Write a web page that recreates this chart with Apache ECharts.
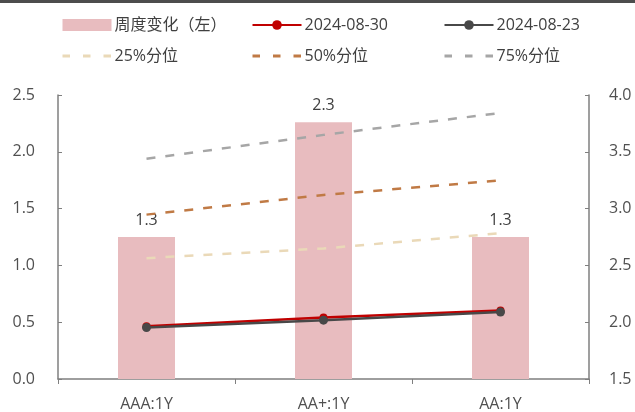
<!DOCTYPE html>
<html><head><meta charset="utf-8">
<script src="https://cdn.jsdelivr.net/npm/echarts@6/dist/echarts.min.js"></script>
<style>html,body{margin:0;padding:0;background:#fff}#c{width:635px;height:412px}</style>
</head><body><div id="c"></div>
<script>
var categories = ['AAA:1Y', 'AA+:1Y', 'AA:1Y'];
var weeklyChange = [1.25, 2.26, 1.25];
var curr = [1.965, 2.041, 2.1025];
var prev = [1.953, 2.018, 2.090];
var p25 = [2.564, 2.649, 2.783];
var p50 = [2.947, 3.120, 3.248];
var p75 = [3.439, 3.649, 3.842];
var leftTicks = [0, 2.5, 0.5];
var rightTicks = [1.5, 4.0, 0.5];

var FONT = '"Open Sans","Noto Sans CJK SC",sans-serif';
var txt = '#404040';
var lab = '#505050';
var chart = echarts.init(document.getElementById('c'), null, {renderer: 'canvas'});
var legDash = [7.5, 13];
function legItem(name, kind) {
  if (kind === 'bar') return {name: name, icon: 'rect'};
  if (kind !== 'dash') return {name: name};
  return {name: name, itemStyle: {opacity: 0, color: 'rgba(0,0,0,0)', borderColor: 'rgba(0,0,0,0)'}, lineStyle: {type: legDash, width: 3}};
}
function legendCol(left, names) {
  return {
    left: left, top: 16, padding: 0, orient: 'vertical', itemWidth: 49, itemHeight: 12, itemGap: 13,
    data: names,
    textStyle: {fontFamily: FONT, fontSize: 16, color: txt, lineHeight: 18, padding: [0, 0, 0, -2]}
  };
}
var dashW = 2.5, dashT = [9, 10];
chart.setOption({
  animation: false,
  textStyle: {fontFamily: FONT},
  graphic: [{type: 'rect', shape: {x: 0, y: 0, width: 635, height: 3}, style: {fill: '#4d4d4d'}}],
  legend: [
    legendCol(61, [legItem('周度变化（左）', 'bar'), legItem('25%分位', 'dash')]),
    legendCol(251, [legItem('2024-08-30'), legItem('50%分位', 'dash')]),
    legendCol(443, [legItem('2024-08-23'), legItem('75%分位', 'dash')])
  ],
  grid: {left: 58, right: 46, top: 95, bottom: 32},
  xAxis: {
    type: 'category', data: categories, boundaryGap: true,
    axisLine: {lineStyle: {color: '#7f7f7f', width: 1.5}},
    axisTick: {show: true, length: 5, lineStyle: {color: '#7f7f7f'}},
    axisLabel: {fontSize: 16, color: lab, margin: 17, fontFamily: FONT}
  },
  yAxis: [{
    type: 'value', min: leftTicks[0], max: leftTicks[1], interval: leftTicks[2],
    axisLine: {show: true, lineStyle: {color: '#7f7f7f', width: 1.5}},
    axisTick: {show: true, inside: true, length: 4, lineStyle: {color: '#7f7f7f'}},
    splitLine: {show: false},
    axisLabel: {fontSize: 16, color: lab, margin: 23, fontFamily: FONT, formatter: function (v) { return v.toFixed(1); }}
  }, {
    type: 'value', min: rightTicks[0], max: rightTicks[1], interval: rightTicks[2], position: 'right',
    axisLine: {show: true, lineStyle: {color: '#7f7f7f', width: 1.5}},
    axisTick: {show: true, inside: true, length: 4, lineStyle: {color: '#7f7f7f'}},
    splitLine: {show: false},
    axisLabel: {fontSize: 16, color: lab, margin: 20, fontFamily: FONT, formatter: function (v) { return v.toFixed(1); }}
  }],
  series: [{
    name: '周度变化（左）', type: 'bar', yAxisIndex: 0, data: weeklyChange, barWidth: 57,
    itemStyle: {color: '#e8bcbf'},
    label: {show: true, position: 'top', distance: 9, fontSize: 16, color: txt, fontFamily: FONT,
      formatter: function (p) { return p.value.toFixed(1); }}
  }, {
    name: '25%分位', type: 'line', yAxisIndex: 1, data: p25, symbol: 'none',
    lineStyle: {color: '#ead9b8', width: dashW, type: dashT}, itemStyle: {color: '#ead9b8'}
  }, {
    name: '50%分位', type: 'line', yAxisIndex: 1, data: p50, symbol: 'none',
    lineStyle: {color: '#c07a45', width: dashW, type: dashT}, itemStyle: {color: '#c07a45'}
  }, {
    name: '75%分位', type: 'line', yAxisIndex: 1, data: p75, symbol: 'none',
    lineStyle: {color: '#a6a6a6', width: dashW, type: dashT}, itemStyle: {color: '#a6a6a6'}
  }, {
    name: '2024-08-30', type: 'line', yAxisIndex: 1, data: curr, symbol: 'circle', symbolSize: 8,
    lineStyle: {color: '#c00000', width: 2.5}, itemStyle: {color: '#c00000'}
  }, {
    name: '2024-08-23', type: 'line', yAxisIndex: 1, data: prev, symbol: 'circle', symbolSize: 9,
    lineStyle: {color: '#484848', width: 2.5}, itemStyle: {color: '#484848'}
  }]
});
</script></body></html>
